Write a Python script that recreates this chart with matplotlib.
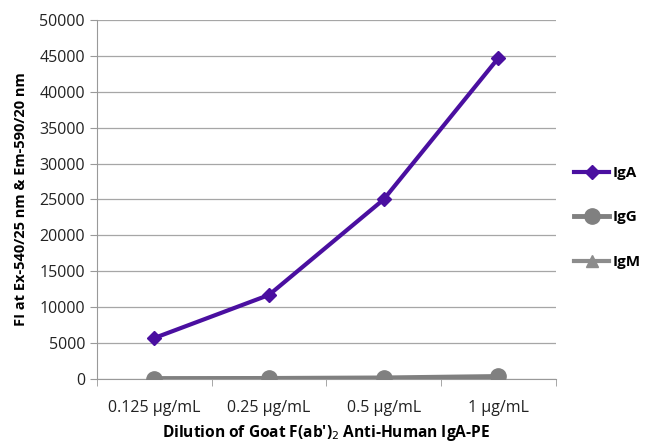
import matplotlib.pyplot as plt
import numpy as np

plt.rcParams['font.family'] = ['Open Sans', 'DejaVu Sans']

categories = ['0.125 µg/mL', '0.25 µg/mL', '0.5 µg/mL', '1 µg/mL']
iga = [5700, 11700, 25000, 44700]
igg = [60, 80, 150, 350]
igm = [30, 40, 70, 150]

x = np.arange(len(categories))

fig = plt.figure(figsize=(6.5, 4.43), dpi=100)
ax = fig.add_axes([0.149, 0.1445, 0.706, 0.8105])

ax.plot(x, igm, color='#8c8c8c', lw=3, marker='^', ms=9, label='IgM', zorder=3)
ax.plot(x, igg, color='#808080', lw=3.5, marker='o', ms=11, label='IgG', zorder=4)
ax.plot(x, iga, color='#4a0fa0', lw=3, marker='D', ms=7, label='IgA', zorder=5)

ax.set_xlim(-0.5, len(categories) - 0.5)
ax.set_ylim(0, 50000)
ax.set_yticks(np.arange(0, 50001, 5000))
ax.set_xticks(x)
ax.set_xticklabels(categories)
ax.set_xticks(np.arange(-0.5, len(categories), 1), minor=True)
ax.tick_params(axis='x', which='major', length=0, pad=15, labelsize=11.5, colors='#222222')
ax.tick_params(axis='x', which='minor', length=5, color='#999999')
ax.tick_params(axis='y', length=5, color='#999999', labelsize=11.5, labelcolor='#222222')
ax.grid(axis='y', color='#a6a6a6', lw=0.9)
ax.set_axisbelow(True)
for s in ['top', 'right']:
    ax.spines[s].set_visible(False)
for s in ['left', 'bottom']:
    ax.spines[s].set_color('#999999')

ax.set_xlabel("Dilution of Goat F(ab')$_2$ Anti-Human IgA-PE", fontsize=11.2,
              fontweight='bold')
ax.xaxis.set_label_coords(0.5, -0.122)
ax.set_ylabel('FI at Ex-540/25 nm & Em-590/20 nm', fontsize=10.5, fontweight='bold',
              labelpad=8)

h, l = ax.get_legend_handles_labels()
leg = ax.legend(h[::-1], l[::-1], loc='center left', bbox_to_anchor=(1.01, 0.45),
                frameon=False, fontsize=11, labelspacing=2.0, handlelength=2.3,
                handletextpad=0.2)
for t in leg.get_texts():
    t.set_fontweight('bold')

fig.savefig('out.png')
